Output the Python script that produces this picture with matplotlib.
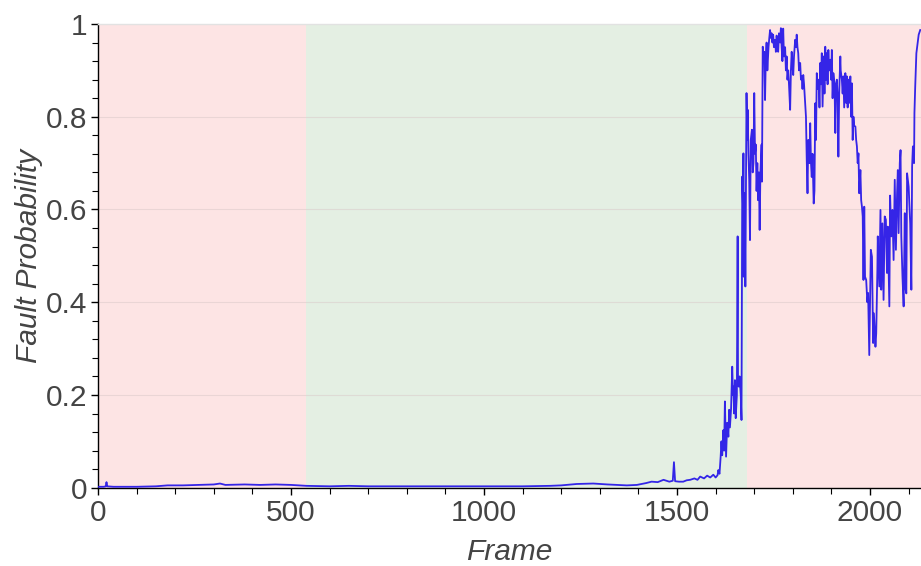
import matplotlib
matplotlib.use("Agg")
import matplotlib.pyplot as plt
from matplotlib.ticker import MultipleLocator

plt.rcParams['font.family'] = ['Liberation Sans', 'DejaVu Sans']

# Region boundaries (frames)
regions = [(0, 540, 'fault'), (540, 1680, 'normal'), (1680, 2132, 'fault')]
region_colors = {'fault': '#fde4e4', 'normal': '#e4efe3'}

frames = [
    0, 15, 20, 22, 24, 40, 100, 150, 180, 220, 260, 300, 316, 330, 380, 420, 460, 500, 540,
    600, 650, 700, 800, 900, 1000, 1100, 1171, 1200, 1240, 1283, 1320, 1344, 1370, 1396,
    1420, 1434, 1450, 1465, 1480, 1489, 1492, 1495, 1505, 1516, 1525, 1534, 1545, 1553,
    1560, 1570, 1578, 1586, 1594, 1600, 1605,
    1607, 1610, 1613, 1615, 1617, 1620, 1622, 1624, 1626, 1627, 1630, 1633, 1635, 1637,
    1640, 1643, 1645, 1646, 1648, 1650, 1652, 1655, 1657, 1658, 1660, 1662, 1665, 1667,
    1669, 1671, 1672, 1673, 1674, 1676, 1677, 1679, 1680, 1682, 1683, 1685, 1687, 1689,
    1691, 1694, 1696, 1698, 1700,
    1702, 1704, 1706, 1708, 1710, 1712, 1714, 1716, 1719, 1720, 1722, 1724, 1726, 1728,
    1730, 1732, 1734, 1737, 1739, 1741, 1743, 1745, 1747, 1749, 1751, 1754, 1756, 1758,
    1760, 1762, 1764, 1767, 1769, 1771, 1773, 1775, 1777, 1780, 1782, 1784, 1786, 1788,
    1790, 1793, 1795, 1797, 1799, 1801, 1803, 1806, 1808, 1810, 1812, 1814, 1816, 1819,
    1821, 1823, 1825, 1827, 1829, 1832, 1834, 1836, 1838, 1840, 1843,
    1845, 1847, 1849, 1851, 1854, 1856, 1858, 1860, 1862, 1864, 1867, 1869, 1871, 1873,
    1875, 1877, 1880, 1882, 1884, 1886, 1888, 1890, 1892, 1894, 1897, 1899, 1901, 1903,
    1905, 1908, 1910, 1912, 1914, 1916, 1918, 1920, 1923, 1924, 1927, 1929, 1931, 1933,
    1936, 1938, 1940, 1942, 1944, 1946, 1949, 1951, 1953, 1955, 1957, 1959, 1962, 1964,
    1966, 1968, 1970, 1972, 1975, 1977, 1979,
    1981, 1983, 1985, 1987, 1990, 1993, 1995, 1998, 2002, 2005, 2008, 2010, 2014, 2016,
    2019, 2020, 2024, 2027, 2029, 2032, 2035, 2038, 2041, 2044, 2046, 2050, 2052, 2055,
    2058, 2061, 2064, 2067, 2070, 2072, 2074, 2077, 2079, 2081, 2084, 2087, 2090, 2091,
    2094, 2096, 2100, 2104, 2107, 2109, 2111, 2114, 2115, 2117, 2120, 2122, 2126, 2130,
]

fault_prob = [
    0.002, 0.002, 0.003, 0.012, 0.003, 0.002, 0.002, 0.003, 0.005, 0.005, 0.006, 0.007, 0.009, 0.006, 0.007, 0.006, 0.007, 0.006, 0.004,
    0.003, 0.004, 0.003, 0.003, 0.003, 0.003, 0.003, 0.004, 0.005, 0.008, 0.009, 0.007, 0.006, 0.005, 0.006,
    0.010, 0.013, 0.012, 0.017, 0.013, 0.015, 0.055, 0.014, 0.013, 0.013, 0.016, 0.017, 0.020, 0.017,
    0.024, 0.020, 0.026, 0.022, 0.028, 0.022, 0.027,
    0.038, 0.030, 0.067, 0.100, 0.070, 0.124, 0.080, 0.186, 0.100, 0.067, 0.140, 0.110, 0.168, 0.130,
    0.170, 0.261, 0.200, 0.218, 0.160, 0.232, 0.150, 0.200, 0.542, 0.220, 0.218, 0.240, 0.200, 0.146,
    0.671, 0.600, 0.721, 0.455, 0.635, 0.550, 0.434, 0.700, 0.851, 0.750, 0.815, 0.720, 0.664, 0.534,
    0.750, 0.772, 0.680, 0.700, 0.851,
    0.720, 0.740, 0.640, 0.700, 0.620, 0.680, 0.556, 0.680, 0.740, 0.660, 0.951, 0.930, 0.940, 0.836,
    0.930, 0.960, 0.900, 0.950, 0.970, 0.987, 0.970, 0.980, 0.960, 0.977, 0.950, 0.966, 0.940, 0.975,
    0.950, 0.940, 0.980, 0.960, 0.991, 0.950, 0.920, 0.990, 0.930, 0.950, 0.900, 0.930, 0.880, 0.900,
    0.870, 0.815, 0.900, 0.940, 0.910, 0.890, 0.930, 0.966, 0.950, 0.977, 0.950, 0.937, 0.900, 0.916,
    0.880, 0.887, 0.860, 0.890, 0.870, 0.829, 0.800, 0.707, 0.635, 0.750, 0.700,
    0.786, 0.700, 0.670, 0.720, 0.613, 0.640, 0.829, 0.750, 0.894, 0.860, 0.880, 0.820, 0.916, 0.870,
    0.937, 0.822, 0.930, 0.850, 0.951, 0.880, 0.937, 0.870, 0.944, 0.900, 0.923, 0.880, 0.944, 0.840,
    0.894, 0.870, 0.765, 0.870, 0.880, 0.840, 0.714, 0.850, 0.930, 0.900, 0.880, 0.850, 0.887, 0.820,
    0.894, 0.830, 0.887, 0.820, 0.880, 0.830, 0.887, 0.800, 0.872, 0.750, 0.800, 0.780, 0.779, 0.750,
    0.736, 0.700, 0.721, 0.635, 0.685, 0.620, 0.606,
    0.585, 0.448, 0.606, 0.455, 0.448, 0.400, 0.420, 0.286, 0.513, 0.498, 0.312, 0.376, 0.304, 0.333,
    0.470, 0.542, 0.434, 0.599, 0.427, 0.570, 0.405, 0.585, 0.578, 0.463, 0.563, 0.391, 0.630, 0.542,
    0.599, 0.491, 0.664, 0.513, 0.635, 0.685, 0.549, 0.700, 0.728, 0.542, 0.455, 0.391, 0.592, 0.434,
    0.419, 0.678, 0.649, 0.570, 0.427, 0.693, 0.736, 0.700, 0.808, 0.865, 0.937, 0.951, 0.977, 0.987,
]

x_ticks = [0, 500, 1000, 1500, 2000]
y_ticks = [0, 0.2, 0.4, 0.6, 0.8, 1]
y_ticklabels = ['0', '0.2', '0.4', '0.6', '0.8', '1']

fig = plt.figure(figsize=(9.21, 5.66), dpi=100)
ax = fig.add_axes([98 / 921, 1 - 487.7 / 566, 1 - 98 / 921, (487.7 - 24) / 566])

for start, end, kind in regions:
    ax.axvspan(start, end, color=region_colors[kind], lw=0, zorder=0)

for y in y_ticks[1:-1]:
    ax.axhline(y, color='#d9c8c8', lw=0.8, alpha=0.5, zorder=1)

ax.plot(frames, fault_prob, color='#2414e8', lw=1.3, alpha=0.92, zorder=3)

ax.set_xlim(0, 2132)
ax.set_ylim(0, 1)
ax.set_xticks(x_ticks)
ax.set_xticklabels([str(t) for t in x_ticks])
ax.set_yticks(y_ticks)
ax.set_yticklabels(y_ticklabels)
ax.xaxis.set_minor_locator(MultipleLocator(100))
ax.yaxis.set_minor_locator(MultipleLocator(0.04))

ax.tick_params(axis='both', which='major', direction='out', length=5, width=1,
               color='black', labelsize=21.5, labelcolor='#444444', pad=3)
ax.tick_params(axis='both', which='minor', direction='out', length=4, width=0.8, color='black')

for side in ['left', 'bottom']:
    ax.spines[side].set_color('black')
    ax.spines[side].set_linewidth(1)
ax.spines['top'].set_color('#e2e2e2')
ax.spines['top'].set_linewidth(1)
ax.spines['right'].set_visible(False)

ax.set_xlabel('Frame', fontsize=21.5, style='italic', color='#444444', labelpad=8)
ax.set_ylabel('Fault Probability', fontsize=21.5, style='italic', color='#444444', labelpad=1.5)

fig.savefig('out.png', dpi=100)
